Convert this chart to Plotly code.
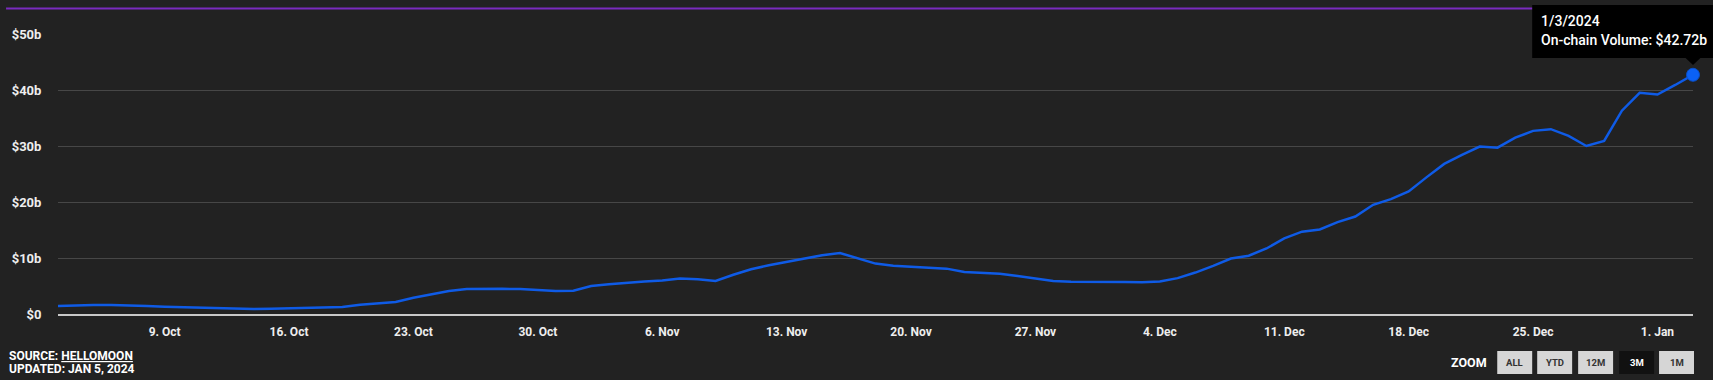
import pandas as pd
import plotly.graph_objects as go

# ---------------- data ----------------
start_date = "2023-10-03"
volume_b = [
    1.45, 1.55, 1.6, 1.6, 1.55, 1.45, 1.3, 1.2, 1.1, 1.0,
    0.95, 0.9, 0.95, 1.0, 1.05, 1.1, 1.25, 1.65, 1.85, 2.15,
    2.9, 3.55, 4.1, 4.45, 4.5, 4.5, 4.45, 4.3, 4.1, 4.15,
    5.0, 5.3, 5.6, 5.8, 6.0, 6.35, 6.2, 5.9, 7.0, 8.0,
    8.7, 9.3, 9.9, 10.5, 10.9, 9.9, 9.0, 8.6, 8.4, 8.3,
    8.1, 7.5, 7.3, 7.2, 6.8, 6.3, 5.9, 5.75, 5.75, 5.8,
    5.7, 5.65, 5.8, 6.4, 7.4, 8.6, 9.9, 10.4, 11.7, 13.5,
    14.7, 15.1, 16.4, 17.4, 19.5, 20.5, 21.9, 24.4, 26.8, 28.4,
    29.9, 29.7, 31.5, 32.7, 33.0, 31.8, 30.0, 30.9, 36.3, 39.5,
    39.2, 40.9, 42.72,
]
dates = pd.date_range(start_date, periods=len(volume_b), freq="D")

x_tick_dates = ["2023-10-09", "2023-10-16", "2023-10-23", "2023-10-30", "2023-11-06",
                "2023-11-13", "2023-11-20", "2023-11-27", "2023-12-04", "2023-12-11",
                "2023-12-18", "2023-12-25", "2024-01-01"]
x_tick_labels = ["9. Oct", "16. Oct", "23. Oct", "30. Oct", "6. Nov", "13. Nov", "20. Nov",
                 "27. Nov", "4. Dec", "11. Dec", "18. Dec", "25. Dec", "1. Jan"]
y_tick_vals = [0, 10, 20, 30, 40, 50]
y_tick_labels = ["$0", "$10b", "$20b", "$30b", "$40b", "$50b"]

tooltip_date = "1/3/2024"
tooltip_label = "On-chain Volume: $42.72b"
zoom_buttons = ["ALL", "YTD", "12M", "3M", "1M"]
selected_button = "3M"

# ---------------- layout helpers ----------------
W, H = 1713, 380
L, R, T, B = 56, 1693, 34, 314
BG = "#222222"
FONT = "Roboto"


def px(x):
    return (x - L) / (R - L)


def py(y):
    return (B - y) / (B - T)


fig = go.Figure()
fig.add_trace(go.Scatter(
    x=dates, y=volume_b, mode="lines",
    line=dict(color="#0f5be6", width=2.5),
    hoverinfo="skip", showlegend=False,
))
fig.add_trace(go.Scatter(
    x=[dates[-1]], y=[volume_b[-1]], mode="markers",
    marker=dict(color="#0b61f5", size=13, line=dict(color="#0a4fc8", width=1)),
    hoverinfo="skip", showlegend=False, cliponaxis=False,
))

shapes = []
annotations = []

# purple top rule
shapes.append(dict(type="line", xref="paper", yref="paper",
                   x0=px(4), x1=px(1713), y0=py(8.5), y1=py(8.5),
                   line=dict(color="#7a2bbf", width=2)))

# tooltip
shapes.append(dict(type="rect", xref="paper", yref="paper",
                   x0=px(1532), x1=px(1713), y0=py(58), y1=py(5),
                   fillcolor="#000000", line=dict(width=0)))
shapes.append(dict(type="path", xref="paper", yref="paper",
                   path=f"M {px(1685)},{py(57.5)} L {px(1701)},{py(57.5)} L {px(1693)},{py(65)} Z",
                   fillcolor="#000000", line=dict(width=0)))
annotations.append(dict(xref="paper", yref="paper", x=px(1539), y=py(21.5),
                        xanchor="left", yanchor="middle", showarrow=False,
                        text=tooltip_date,
                        font=dict(family=FONT, size=14, color="#ffffff", weight=500)))
annotations.append(dict(xref="paper", yref="paper", x=px(1539), y=py(40),
                        xanchor="left", yanchor="middle", showarrow=False,
                        text=tooltip_label,
                        font=dict(family=FONT, size=14, color="#ffffff", weight=500)))

# source / updated
annotations.append(dict(xref="paper", yref="paper", x=px(5), y=py(356),
                        xanchor="left", yanchor="middle", showarrow=False,
                        text="SOURCE: <u>HELLOMOON</u>",
                        font=dict(family=FONT, size=12, color="#ffffff", weight=700)))
annotations.append(dict(xref="paper", yref="paper", x=px(5), y=py(368.5),
                        xanchor="left", yanchor="middle", showarrow=False,
                        text="UPDATED: JAN 5, 2024",
                        font=dict(family=FONT, size=12, color="#ffffff", weight=700)))

# zoom buttons
annotations.append(dict(xref="paper", yref="paper", x=px(1489), y=py(362),
                        xanchor="right", yanchor="middle", showarrow=False,
                        text="ZOOM",
                        font=dict(family=FONT, size=12.5, color="#ffffff", weight=700)))
btn_left = [1497, 1537, 1578, 1619, 1659]
for lbl, x0 in zip(zoom_buttons, btn_left):
    sel = lbl == selected_button
    shapes.append(dict(type="rect", xref="paper", yref="paper",
                       x0=px(x0), x1=px(x0 + 35), y0=py(374), y1=py(351),
                       fillcolor="#111111" if sel else "#d6d6d6", line=dict(width=0)))
    annotations.append(dict(xref="paper", yref="paper", x=px(x0 + 17.5), y=py(362.5),
                            xanchor="center", yanchor="middle", showarrow=False,
                            text=lbl,
                            font=dict(family=FONT, size=9.5,
                                      color="#ffffff" if sel else "#333333", weight=700)))

fig.update_layout(
    width=W, height=H,
    margin=dict(l=L, r=W - R, t=T, b=H - B),
    paper_bgcolor=BG, plot_bgcolor=BG,
    hovermode=False,
    shapes=shapes, annotations=annotations,
    xaxis=dict(
        range=[dates[0], dates[-1]],
        tickvals=pd.to_datetime(x_tick_dates), ticktext=x_tick_labels,
        showgrid=False, zeroline=False,
        showline=True, linecolor="#c8c8c8", linewidth=1.5,
        ticks="outside", ticklen=6, tickcolor=BG,
        tickfont=dict(family=FONT, size=12, color="#eeeeee", weight=700),
        fixedrange=True,
    ),
    yaxis=dict(
        range=[0, 50],
        tickvals=y_tick_vals, ticktext=y_tick_labels,
        showgrid=True, gridcolor="#474747", gridwidth=1,
        zeroline=False, showline=False,
        ticks="outside", ticklen=13, tickcolor=BG,
        tickfont=dict(family=FONT, size=13, color="#eeeeee", weight=700),
        fixedrange=True,
    ),
)

fig.write_html(
    "out.html",
    config={"displayModeBar": False},
    post_script="document.body.style.margin='0';document.body.style.overflow='hidden';",
)
